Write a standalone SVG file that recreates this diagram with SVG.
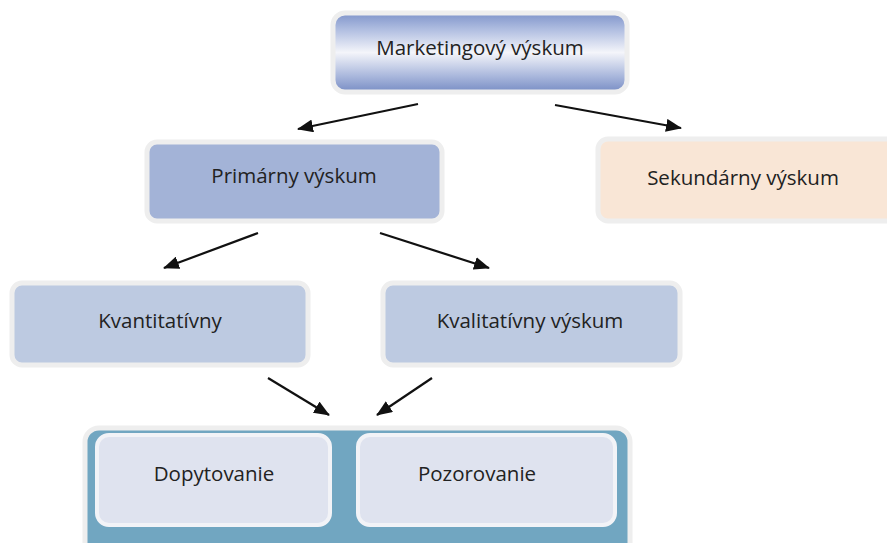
<svg xmlns="http://www.w3.org/2000/svg" width="887" height="543" viewBox="0 0 887 543">
<defs>
<linearGradient id="gMk" x1="0" y1="0" x2="0" y2="1">
<stop offset="0" stop-color="#7f94ca"/>
<stop offset="0.2" stop-color="#aebce0"/>
<stop offset="0.5" stop-color="#f4f5fa"/>
<stop offset="0.8" stop-color="#a9b7dc"/>
<stop offset="1" stop-color="#788dc4"/>
</linearGradient>
<marker id="ah" viewBox="0 0 16 13" refX="15" refY="6.5" markerWidth="16" markerHeight="13" markerUnits="userSpaceOnUse" orient="auto">
<path d="M0,0 L16,6.5 L0,13 z" fill="#111"/>
</marker>
<style>
.halo{stroke:#eeeeee;stroke-width:5}
.t{font-family:"Open Sans","Liberation Sans",sans-serif;font-size:20.5px;fill:#222;text-anchor:middle;dominant-baseline:central}
.c{stroke:#111;stroke-width:2.2;fill:none;marker-end:url(#ah)}
</style>
</defs>
<rect width="887" height="543" fill="#ffffff"/>
<g id="marketingovy">
<rect class="halo" x="333" y="13" width="294" height="79" rx="12" fill="url(#gMk)"/>
<text class="t" x="480" y="47">Marketingový výskum</text>
</g>
<g id="primarny">
<rect class="halo" x="147" y="142" width="295" height="79" rx="10" fill="#a3b3d7"/>
<text class="t" x="294" y="175">Primárny výskum</text>
</g>
<g id="sekundarny">
<rect class="halo" x="598" y="139" width="300" height="82" rx="10" fill="#f9e6d6"/>
<text class="t" x="743" y="177">Sekundárny výskum</text>
</g>
<g id="kvantitativny">
<rect class="halo" x="12" y="283" width="296" height="82" rx="10" fill="#bdcae1"/>
<text class="t" x="160" y="320">Kvantitatívny</text>
</g>
<g id="kvalitativny">
<rect class="halo" x="383" y="283" width="297" height="82" rx="10" fill="#bdcae1"/>
<text class="t" x="530" y="320">Kvalitatívny výskum</text>
</g>
<g id="metody">
<rect class="halo" x="85" y="428" width="545" height="130" rx="14" fill="#71a6c1"/>
</g>
<g id="dopytovanie">
<rect x="97" y="435" width="233" height="90" rx="12" fill="#dfe3ef" stroke="#f2f3f7" stroke-width="4"/>
<text class="t" x="214" y="473">Dopytovanie</text>
</g>
<g id="pozorovanie">
<rect x="358" y="435" width="257" height="90" rx="12" fill="#dfe3ef" stroke="#f2f3f7" stroke-width="4"/>
<text class="t" x="477" y="473">Pozorovanie</text>
</g>
<g id="connectors">
<line class="c" x1="418" y1="104" x2="298" y2="129"/>
<line class="c" x1="555" y1="105" x2="681" y2="128"/>
<line class="c" x1="258" y1="233" x2="164" y2="268"/>
<line class="c" x1="380" y1="233" x2="489" y2="268"/>
<line class="c" x1="268" y1="378" x2="329" y2="415"/>
<line class="c" x1="432" y1="378" x2="377" y2="415"/>
</g>
</svg>
